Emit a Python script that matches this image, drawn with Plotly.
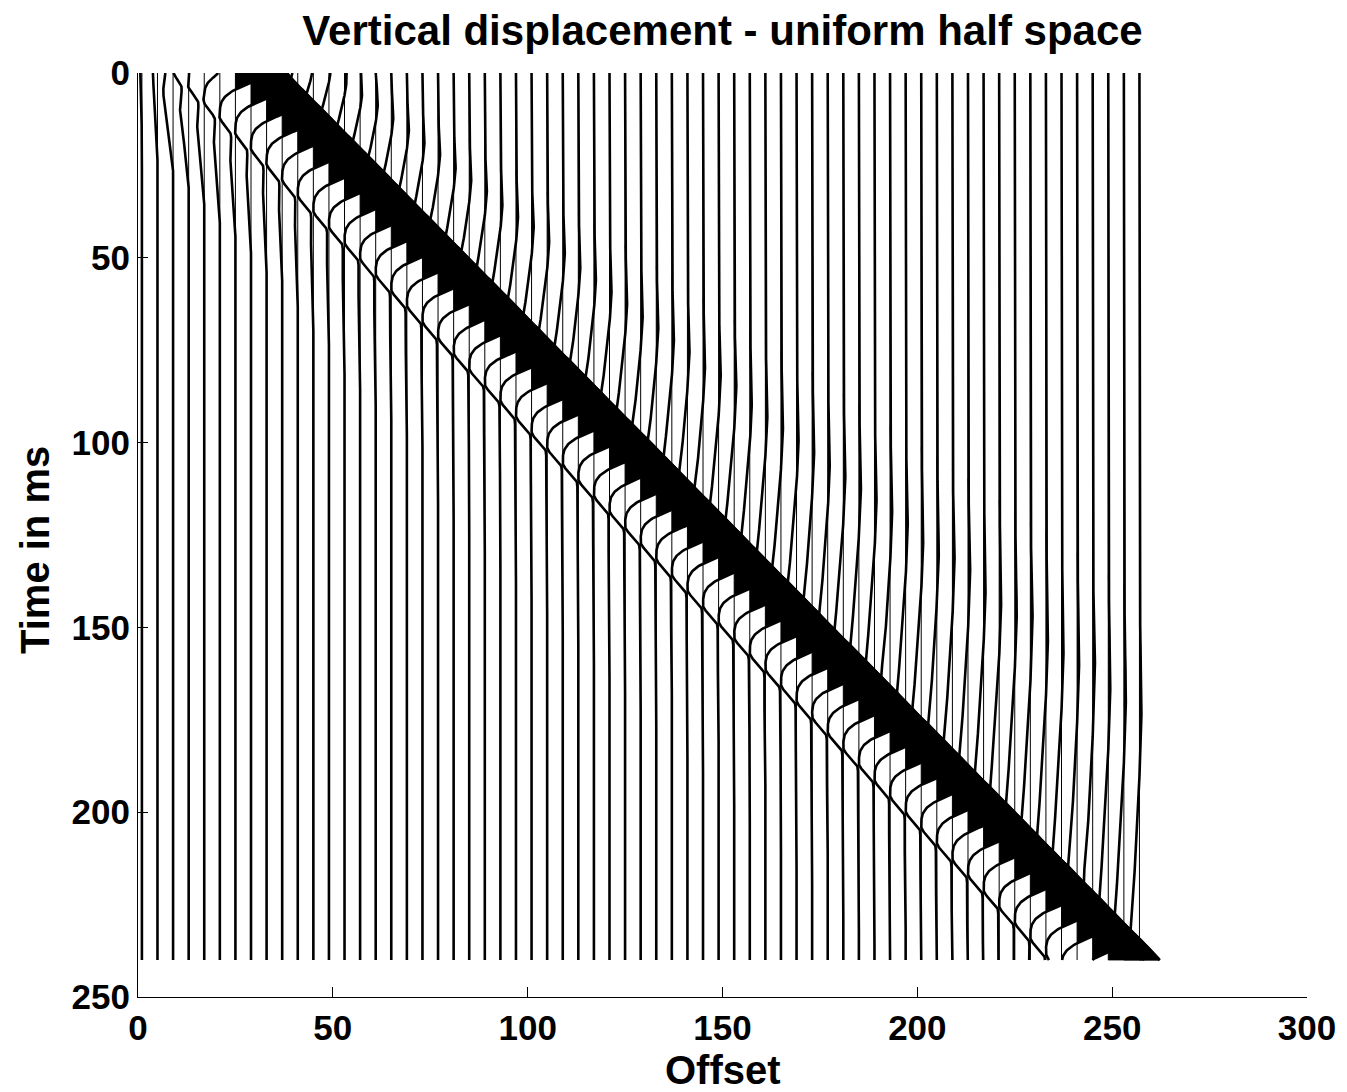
import numpy as np
import plotly.graph_objects as go

# ---------------- data ----------------
offsets = [1, 5, 9, 13, 17, 21, 25, 29, 33, 37, 41, 45, 49, 53, 57, 61, 65, 69, 73, 77,
           81, 85, 89, 93, 97, 101, 105, 109, 113, 117, 121, 125, 129, 133, 137, 141,
           145, 149, 153, 157, 161, 165, 169, 173, 177, 181, 185, 189, 193, 197, 201,
           205, 209, 213, 217, 221, 225, 229, 233, 237, 241, 245, 249, 253, 257]

# onset (ms) of the Rayleigh pulse on each trace (leading edge of the black band)
t_rayleigh = [-39.6, -35.3, -31.0, -26.7, -22.5, -18.2, -13.9, -9.6, -5.3, -1.1,
              3.2, 7.5, 11.8, 16.0, 20.3, 24.6, 28.9, 33.2, 37.4, 41.7,
              46.0, 50.3, 54.5, 58.8, 63.1, 67.4, 71.7, 75.9, 80.2, 84.5,
              88.8, 93.0, 97.3, 101.6, 105.9, 110.2, 114.4, 118.7, 123.0, 127.3,
              131.6, 135.8, 140.1, 144.4, 148.7, 152.9, 157.2, 161.5, 165.8, 170.1,
              174.3, 178.6, 182.9, 187.2, 191.4, 195.7, 200.0, 204.3, 208.6, 212.8,
              217.1, 221.4, 225.7, 229.9, 234.2]

# onset (ms) of the slow precursor (body-wave arrivals) on each trace
t_precursor = [-42.5, -39.6, -36.8, -34.0, -31.1, -28.2, -25.4, -22.5, -19.6, -16.8,
               -13.9, -11.0, -8.2, -5.4, -2.5, 0.4, 3.2, 6.1, 8.9, 11.8,
               14.7, 17.5, 20.4, 23.2, 26.1, 29.0, 31.8, 34.7, 37.5, 40.4,
               43.3, 46.1, 49.0, 51.8, 54.7, 57.6, 60.4, 63.3, 66.1, 69.0,
               71.9, 74.7, 77.6, 80.4, 83.3, 86.1, 89.0, 91.9, 94.7, 97.6,
               100.4, 103.3, 106.2, 109.0, 111.9, 114.7, 117.6, 120.5, 123.3, 126.2,
               129.0, 131.9, 134.7, 137.6, 140.5]

# amplitude of the slow late tail on each trace (offset units)
tail_amp = [0.5, 1.2, 2.6, 2.3, 1.9, 1.6, 1.4, 1.2, 1.0, 0.9, 0.8, 0.7, 0.6, 0.55, 0.5,
            0.45, 0.4, 0.4, 0.35, 0.35, 0.3, 0.3, 0.3, 0.3, 0.3, 0.3, 0.3, 0.3,
            0.3, 0.3, 0.3, 0.3, 0.3, 0.3, 0.3, 0.3, 0.3, 0.3, 0.3, 0.3, 0.3, 0.3,
            0.3, 0.3, 0.3, 0.3, 0.3, 0.3, 0.3, 0.3, 0.3, 0.3, 0.3, 0.3, 0.3, 0.3,
            0.3, 0.3, 0.3, 0.3, 0.3, 0.3, 0.3, 0.3, 0.3]

# Rayleigh pulse shape: delay after onset (ms) and deflection (offset units)
pulse_delay = [-60.0, 0.0, 3.0, 6.0, 9.0, 11.5, 13.0, 15.0, 18.2, 20.0, 22.0, 24.0,
               26.0, 30.3, 400.0]
pulse_amp = [0.0, 0.0, 2.8, 5.6, 8.4, 10.7, 10.3, 7.5, 0.0, -2.6, -3.8, -4.0,
             -4.0, 0.0, 0.0]

# precursor shape on the normalised interval [precursor onset, Rayleigh onset]
pre_phase = [0.0, 0.15, 0.3, 0.45, 0.58, 0.7, 0.8, 0.88, 0.94, 0.98, 1.0]
pre_amp = [0.0, 0.3, 0.6, 0.35, -0.2, -0.7, -1.2, -1.7, -2.2, -2.4, 0.0]

# slow tail shape: delay after Rayleigh onset (ms) and relative amplitude
tail_delay = [0.0, 24.0, 30.0, 36.0, 44.0, 56.0, 400.0]
tail_shape = [0.0, 0.0, -0.7, -1.0, -0.6, 0.0, 0.0]

t_end = 240.0
x_ticks = [0, 50, 100, 150, 200, 250, 300]
y_ticks = [0, 50, 100, 150, 200, 250]

# ---------------- build traces ----------------
dt = 0.25
t = np.arange(0.0, t_end + 0.001, dt)


def smooth(sig, sigma_ms):
    m = int(round(4 * sigma_ms / dt))
    kt = np.arange(-m, m + 1) * dt
    k = np.exp(-0.5 * (kt / sigma_ms) ** 2)
    k /= k.sum()
    return np.convolve(np.pad(sig, (m, m), mode="edge"), k, mode="valid")


fill_x, fill_y = [], []
wig_x, wig_y = [], []
base_x, base_y = [], []
for x0, tr, tp, ta in zip(offsets, t_rayleigh, t_precursor, tail_amp):
    main = np.interp(t - tr, pulse_delay, pulse_amp)
    main = main + ta * np.interp(t - tr, tail_delay, tail_shape)
    ph = (t - tp) / (tr - tp)
    inside = (ph >= 0) & (ph <= 1)
    pre = np.where(inside, np.interp(ph, pre_phase, pre_amp), 0.0)
    g = smooth(main + pre, 0.7)
    assert len(g) == len(t)

    # positive lobes -> separate closed polygons against the trace baseline
    idx = np.flatnonzero(g > 0.02)
    if idx.size:
        breaks = np.flatnonzero(np.diff(idx) > 1)
        starts = np.concatenate([[idx[0]], idx[breaks + 1]])
        ends = np.concatenate([idx[breaks], [idx[-1]]])
        for s, e in zip(starts, ends):
            seg_t = t[s:e + 1]
            seg_x = x0 + g[s:e + 1]
            fill_x += [x0] + seg_x.tolist() + [x0, None]
            fill_y += [seg_t[0]] + seg_t.tolist() + [seg_t[-1], None]

    wig_x += (x0 + g).tolist() + [None]
    wig_y += t.tolist() + [None]
    base_x += [x0, x0, None]
    base_y += [t[0], t[-1], None]

fig = go.Figure()
fig.add_trace(go.Scatter(x=fill_x, y=fill_y, mode="lines", fill="toself",
                         fillcolor="black", line=dict(color="black", width=0.8),
                         connectgaps=False, hoverinfo="skip", showlegend=False))
fig.add_trace(go.Scatter(x=base_x, y=base_y, mode="lines",
                         line=dict(color="black", width=1.0),
                         hoverinfo="skip", showlegend=False))
fig.add_trace(go.Scatter(x=wig_x, y=wig_y, mode="lines",
                         line=dict(color="black", width=2.6),
                         hoverinfo="skip", showlegend=False))

font_family = "Liberation Sans, Arial, Helvetica, sans-serif"
W, H = 1339, 1084
L, T, R, B = 130, 65, 1299, 989
fig.update_layout(
    width=W, height=H,
    margin=dict(l=L, r=W - R, t=T, b=H - B),
    paper_bgcolor="white", plot_bgcolor="white",
    font=dict(family=font_family, color="black"),
    title=dict(text="Vertical displacement - uniform half space",
               x=0.5, xref="paper", y=1 - 22 / H, yref="container",
               xanchor="center", yanchor="middle",
               font=dict(size=42, family=font_family, weight="bold", color="black")),
    xaxis=dict(range=[0, 300], tickvals=x_ticks, ticks="inside", ticklen=10,
               tickcolor="black", showline=True, linecolor="black", linewidth=1.2,
               showgrid=False, zeroline=False, mirror=False,
               tickfont=dict(size=35, family=font_family, weight="bold", color="black")),
    yaxis=dict(range=[250, 0], tickvals=y_ticks, ticks="inside", ticklen=10,
               tickcolor="black", showline=True, linecolor="black", linewidth=1.2,
               showgrid=False, zeroline=False, mirror=False,
               tickfont=dict(size=35, family=font_family, weight="bold", color="black")),
    annotations=[
        dict(text="Offset", x=0.5, xref="paper", y=(B - 1062) / (B - T),
             yref="paper", showarrow=False, xanchor="center", yanchor="middle",
             font=dict(size=40, family=font_family, weight="bold", color="black")),
        dict(text="Time in ms", x=(27 - L) / (R - L), xref="paper",
             y=(B - 542) / (B - T), yref="paper",
             showarrow=False, textangle=-90, xanchor="center", yanchor="middle",
             font=dict(size=40, family=font_family, weight="bold", color="black")),
    ],
)
fig.write_html("out.html")
